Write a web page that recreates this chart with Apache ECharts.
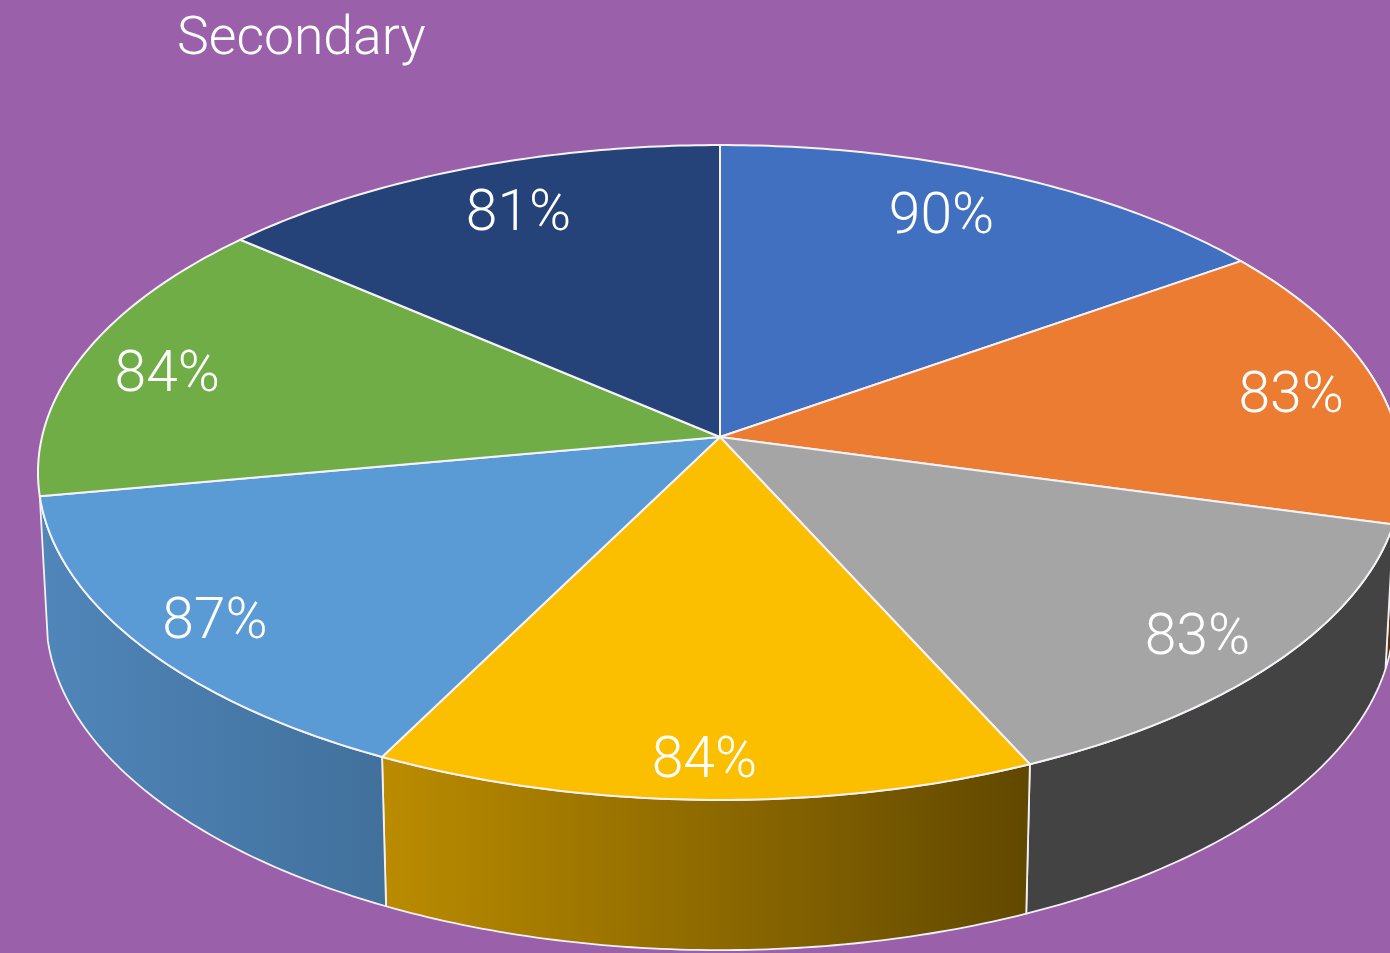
<!DOCTYPE html>
<html>
<head>
<meta charset="utf-8">
<style>
html,body{margin:0;padding:0;background:#9a60aa;overflow:hidden}
#chart{width:1390px;height:953px}
</style>
<script src="https://cdn.jsdelivr.net/npm/echarts@6/dist/echarts.min.js"></script>
</head>
<body>
<div id="chart"></div>
<script>
// Share per slice, clockwise from twelve o'clock
const sliceValues = [90, 83, 83, 84, 87, 84, 81];
const titleText = 'Secondary';
const topColors = ['#4270c0', '#eb7c31', '#a5a5a5', '#fbbf00', '#5b9bd5', '#70ad47', '#254378'];
// Side wall shading, left to right; back slices show no wall
const wallShades = [
  null,
  ['#7a4a24', '#5a2e0c'],
  ['#434343', '#434343'],
  ['#bb8c00', '#614800'],
  ['#5086ba', '#41709b'],
  null,
  null
];
// Label shift in pixels from the point at 80% of the radius on the slice's mid angle
const labelNudges = [[-10, -5], [45, 5], [40, 25], [-3, 42], [-47, 23], [-41, 6], [8, -3]];

const total = sliceValues.reduce((a, b) => a + b, 0);
const startShare = [];
sliceValues.reduce((acc, v, i) => { startShare[i] = acc; return acc + v; }, 0);

// Perspective disc: depth foreshortens and scales toward the back
const DEPTH = 0.1084;
const topDisc = { cx: 720, cy: 437, rx: 678, ry: 323.6 };
const baseDisc = { cx: 720, cy: 580, rx: 670, ry: 330 };

function project(disc, deg, r) {
  const a = deg * Math.PI / 180;
  const u = r * Math.sin(a);
  const v = -r * Math.cos(a);
  const d = 1 - DEPTH * v;
  return [disc.cx + disc.rx * u / d, disc.cy + disc.ry * v / d];
}

function rim(disc, from, to) {
  const pts = [];
  const n = Math.max(2, Math.ceil((to - from) / 0.75));
  for (let i = 0; i <= n; i++) pts.push(project(disc, from + (to - from) * i / n, 1));
  return pts;
}

function sliceAngles(i) {
  const from = startShare[i] / total * 360;
  return [from, from + sliceValues[i] / total * 360];
}

function renderWall(params, api) {
  const i = params.dataIndex;
  const shade = wallShades[i];
  if (!shade) return null;
  const [from, to] = sliceAngles(i);
  const points = rim(topDisc, from, to).concat(rim(baseDisc, from, to).reverse());
  return {
    type: 'polygon',
    shape: { points },
    style: {
      fill: new echarts.graphic.LinearGradient(0, 0, 1, 0, [
        { offset: 0, color: shade[0] },
        { offset: 1, color: shade[1] }
      ]),
      stroke: '#f4f0f6',
      lineWidth: 1.8,
      lineJoin: 'round'
    }
  };
}

function renderTop(params, api) {
  const i = params.dataIndex;
  const [from, to] = sliceAngles(i);
  const points = [[topDisc.cx, topDisc.cy]].concat(rim(topDisc, from, to));
  return {
    type: 'polygon',
    shape: { points },
    style: { fill: topColors[i], stroke: '#f6f2f8', lineWidth: 2, lineJoin: 'round' }
  };
}

function renderLabel(params, api) {
  const i = params.dataIndex;
  const [from, to] = sliceAngles(i);
  const p = project(topDisc, (from + to) / 2, 0.8);
  return {
    type: 'text',
    style: {
      text: api.value(0) + '%',
      x: p[0] + labelNudges[i][0],
      y: p[1] + labelNudges[i][1],
      align: 'center',
      verticalAlign: 'middle',
      fill: '#ffffff',
      font: '300 57px Roboto, "Liberation Sans", sans-serif'
    }
  };
}

const seriesData = sliceValues.map(v => [v]);
const chart = echarts.init(document.getElementById('chart'), null, { renderer: 'canvas' });
chart.setOption({
  backgroundColor: '#9a60aa',
  animation: false,
  title: {
    text: titleText,
    left: 172,
    top: 9,
    textStyle: {
      color: '#ffffff',
      fontFamily: 'Roboto, "Liberation Sans", sans-serif',
      fontWeight: 300,
      fontSize: 53.5
    }
  },
  series: [
    { type: 'custom', coordinateSystem: 'none', silent: true, z: 1, renderItem: renderWall, data: seriesData },
    { type: 'custom', coordinateSystem: 'none', silent: true, z: 2, renderItem: renderTop, data: seriesData },
    { type: 'custom', coordinateSystem: 'none', silent: true, z: 3, renderItem: renderLabel, data: seriesData }
  ]
});
</script>
</body>
</html>
